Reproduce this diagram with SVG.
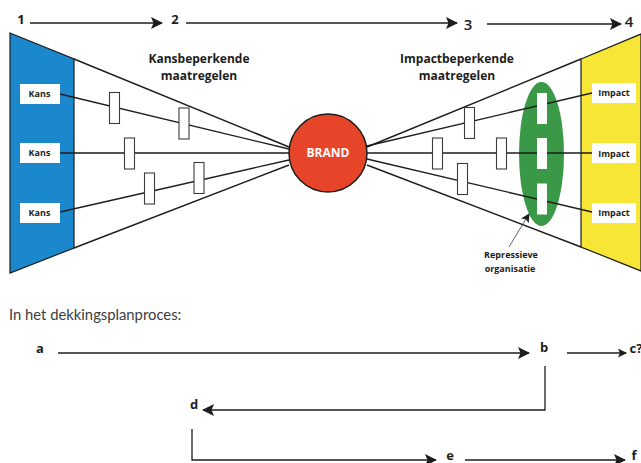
<svg xmlns="http://www.w3.org/2000/svg" width="641" height="463" viewBox="0 0 641 463">
<style>
text{font-family:"Open Sans","Noto Sans","Liberation Sans",sans-serif;fill:#1d1d1b}
.t{font-size:12px;font-weight:700;text-anchor:middle}
.n{font-size:9px;font-weight:700;text-anchor:middle}
.k{font-size:13px;font-weight:700;text-anchor:middle}
.l{fill:none;stroke:#1d1d1b;stroke-width:1.3}
.o{fill:none;stroke:#1d1d1b;stroke-width:1.5}
.a{fill:none;stroke:#1d1d1b;stroke-width:1.3;marker-end:url(#ah)}
.r{fill:#fff;stroke:#3c3c3b;stroke-width:1.1}
.w{fill:#fff}
</style>
<defs>
<marker id="ah" markerUnits="userSpaceOnUse" markerWidth="14" markerHeight="14" refX="11" refY="6" orient="auto">
<path d="M0 0L12 6L0 12L2.500 6Z" fill="#1d1d1b"/>
</marker>
<marker id="as" markerUnits="userSpaceOnUse" markerWidth="10" markerHeight="10" refX="8" refY="4.500" orient="auto">
<path d="M0 0L9 4.500L0 9L2 4.500Z" fill="#1d1d1b"/>
</marker>
</defs>
<g id="left-wedge">
<path d="M10 33L74 59V248L10 273Z" fill="#1b87cc" stroke="#1d1d1b" stroke-width="1.2"/>
</g>
<g id="right-wedge">
<path d="M581 59L641 34V271L581 247Z" fill="#f7e636" stroke="#1d1d1b" stroke-width="1.2"/>
</g>
<g id="organisatie-ellipse"><ellipse cx="541.500" cy="154" rx="22.500" ry="72" fill="#3a9946"/></g>
<g id="connectors">
<path class="o" d="M74 59L289 147M74 248L289 165M581 59L367 147M581 247L367 165"/>
<path class="l" d="M60 94L289 149M60 153H289M60 212L289 160"/>
<path class="l" d="M592 93L367 146M592 153H367M592 212L367 159"/>
<path class="a" d="M30 23H162"/>
<path class="a" d="M186 23H457"/>
<path class="a" d="M487 24H621"/>
<path class="a" d="M58 353H529"/>
<path class="a" d="M545 366V410H203"/>
<path class="a" d="M567 353H626" style="marker-end:url(#as)"/>
<path class="a" d="M192 429V460H436"/>
<path class="a" d="M465 460H625"/>
<path fill="none" stroke="#3c3c3b" stroke-width="0.8" marker-end="url(#as)" d="M509 247L529 214"/>
</g>
<g id="node-1"><text class="k" x="21" y="24">1</text></g>
<g id="node-2"><text class="k" x="175" y="24">2</text></g>
<g id="node-3"><text class="k" x="468" y="30" style="font-size:15px;font-weight:600">3</text></g>
<g id="node-4"><text class="k" x="629" y="27" style="font-size:15px;font-weight:600">4</text></g>
<g id="title-kans"><text class="t" x="199" y="63">Kansbeperkende</text><text class="t" x="199" y="80">maatregelen</text></g>
<g id="title-impact"><text class="t" x="457" y="63">Impactbeperkende</text><text class="t" x="457" y="80">maatregelen</text></g>
<g id="kans-1"><rect class="w" x="20" y="84" width="40" height="20"/><text class="n" x="39.500" y="97">Kans</text></g>
<g id="kans-2"><rect class="w" x="20" y="143" width="40" height="20"/><text class="n" x="39.500" y="156">Kans</text></g>
<g id="kans-3"><rect class="w" x="20" y="203" width="40" height="20"/><text class="n" x="39.500" y="216">Kans</text></g>
<g id="impact-1"><rect class="w" x="592" y="83" width="44" height="20"/><text class="n" x="614" y="96">Impact</text></g>
<g id="impact-2"><rect class="w" x="592" y="143" width="44" height="20"/><text class="n" x="614" y="157">Impact</text></g>
<g id="impact-3"><rect class="w" x="592" y="203" width="44" height="20"/><text class="n" x="614" y="216">Impact</text></g>
<g id="barriers-left">
<rect class="r" x="109.500" y="92.500" width="10" height="31"/>
<rect class="r" x="179" y="108" width="10" height="31"/>
<rect class="r" x="124.500" y="138" width="10" height="31"/>
<rect class="r" x="144.500" y="173" width="10" height="31"/>
<rect class="r" x="194" y="162.500" width="10" height="31"/>
</g>
<g id="barriers-right">
<rect class="r" x="464.500" y="107.500" width="10" height="31"/>
<rect class="r" x="432.500" y="138" width="10" height="31"/>
<rect class="r" x="496.500" y="138" width="10" height="31"/>
<rect class="r" x="457.500" y="163.500" width="10" height="31"/>
<rect class="w" x="537" y="93" width="10" height="31"/>
<rect class="w" x="537" y="138" width="10" height="31"/>
<rect class="w" x="537" y="183.500" width="10" height="31"/>
</g>
<g id="brand"><circle cx="328" cy="153" r="39" fill="#e6452a" stroke="#1d1d1b" stroke-width="1.500"/><text x="328" y="157" text-anchor="middle" font-size="12" font-weight="700" style="fill:#fff">BRAND</text></g>
<g id="repressieve"><text class="n" x="511" y="258">Repressieve</text><text class="n" x="510" y="272">organisatie</text></g>
<g id="caption"><text x="9" y="320" font-size="14.800" style="font-family:'Lato','Open Sans',sans-serif;fill:#3c3c3b">In het dekkingsplanproces:</text></g>
<g id="node-a"><text class="k" x="40" y="353">a</text></g>
<g id="node-b"><text class="k" x="544" y="352">b</text></g>
<g id="node-c"><text class="k" x="636" y="353">c?</text></g>
<g id="node-d"><text class="k" x="194" y="409">d</text></g>
<g id="node-e"><text class="k" x="450" y="460">e</text></g>
<g id="node-f"><text class="k" x="634" y="460">f</text></g>
</svg>
